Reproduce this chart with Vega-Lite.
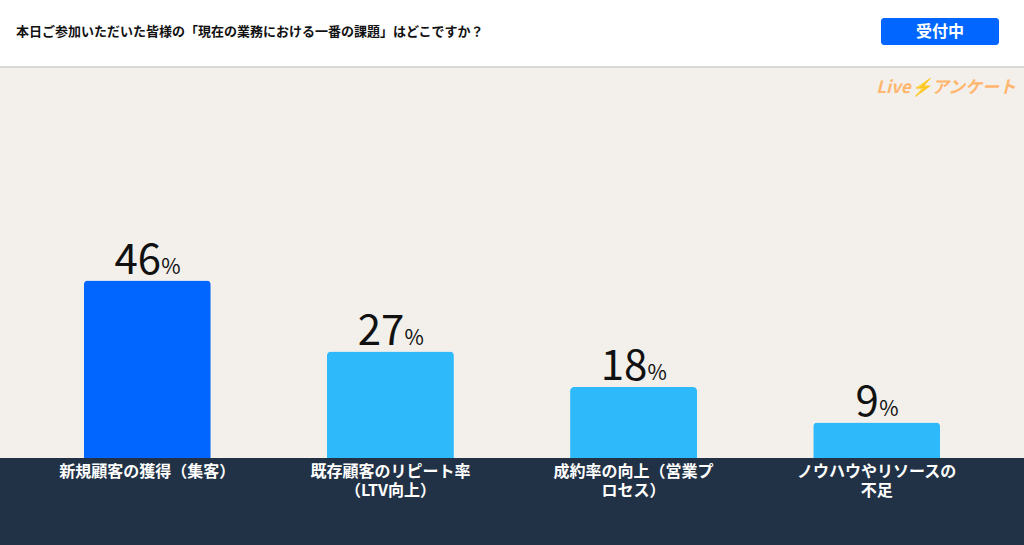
{
  "$schema": "https://vega.github.io/schema/vega-lite/v6.json",
  "padding": 0,
  "background": "#223246",
  "spacing": 0,
  "config": {
    "view": {"stroke": null, "strokeWidth": 0},
    "text": {"font": "Noto Sans CJK JP"},
    "concat": {"spacing": 0}
  },
  "datasets": {
    "answers": [
      {"choice": "新規顧客の獲得（集客）", "value": 45.5},
      {"choice": "既存顧客のリピート率\n（LTV向上）", "value": 27.3},
      {"choice": "成約率の向上（営業プ\nロセス）", "value": 18.2},
      {"choice": "ノウハウやリソースの\n不足", "value": 9.1}
    ],
    "header": [
      {"question": "本日ご参加いただいた皆様の「現在の業務における一番の課題」はどこですか？", "status": "受付中", "logo": "Live⚡アンケート"}
    ]
  },
  "vconcat": [
    {
      "width": 1024,
      "height": 68,
      "view": {"fill": "#ffffff", "stroke": null, "strokeWidth": 0},
      "data": {"name": "header"},
      "layer": [
        {
          "mark": {"type": "text", "align": "left", "baseline": "middle", "x": 16, "y": 32, "fontSize": 13, "fontWeight": "bold", "color": "#111111"},
          "encoding": {"text": {"field": "question"}}
        },
        {
          "mark": {"type": "rect", "x": 881, "x2": 999, "y": 18, "y2": 45, "color": "#0066ff", "cornerRadius": 3},
          "encoding": {}
        },
        {
          "mark": {"type": "text", "align": "center", "baseline": "middle", "x": 940, "y": 32, "fontSize": 16, "fontWeight": "bold", "color": "#ffffff"},
          "encoding": {"text": {"field": "status"}}
        },
        {
          "mark": {"type": "rect", "x": 0, "x2": 1024, "y": 66, "y2": 68, "color": "#d9d8d5"},
          "encoding": {}
        }
      ]
    },
    {
      "width": 1024,
      "height": 390,
      "view": {"fill": "#f3f0eb", "stroke": null, "strokeWidth": 0},
      "data": {"name": "answers"},
      "encoding": {
        "x": {"field": "choice", "type": "nominal", "sort": null, "axis": null, "scale": {"type": "band", "paddingInner": 0.478, "paddingOuter": 0.345}},
        "y": {"field": "value", "type": "quantitative", "axis": null, "scale": {"domain": [0, 100]}}
      },
      "layer": [
        {
          "mark": {"type": "bar", "cornerRadiusTopLeft": 4, "cornerRadiusTopRight": 4},
          "encoding": {
            "color": {"condition": {"test": "datum.value > 40", "value": "#0066ff"}, "value": "#2ebafa"}
          }
        },
        {
          "mark": {"type": "text", "align": "center", "baseline": "alphabetic", "fontSize": 42, "fontWeight": "normal", "dx": -9.5, "dy": -7, "color": "#111111"},
          "encoding": {"text": {"field": "value", "type": "quantitative", "format": ".0f"}}
        },
        {
          "transform": [{"filter": "datum.value >= 9.5"}],
          "mark": {"type": "text", "text": "%", "align": "left", "baseline": "alphabetic", "fontSize": 21, "fontWeight": "normal", "dx": 14, "dy": -7, "color": "#111111"}
        },
        {
          "transform": [{"filter": "datum.value < 9.5"}],
          "mark": {"type": "text", "text": "%", "align": "left", "baseline": "alphabetic", "fontSize": 21, "fontWeight": "normal", "dx": 2.5, "dy": -7, "color": "#111111"}
        },
        {
          "data": {"name": "header"},
          "mark": {"type": "text", "align": "right", "baseline": "middle", "fontSize": 17, "fontWeight": "bold", "fontStyle": "italic", "color": "#ffb66e"},
          "encoding": {"x": {"value": 1016}, "y": {"value": 20}, "text": {"field": "logo"}}
        }
      ]
    },
    {
      "width": 1024,
      "height": 87,
      "view": {"fill": "#223246", "stroke": null, "strokeWidth": 0},
      "data": {"name": "answers"},
      "mark": {"type": "text", "color": "#ffffff", "fontSize": 16, "fontWeight": "bold", "baseline": "top", "align": "center", "lineBreak": "\n", "lineHeight": 19, "y": 6},
      "encoding": {
        "x": {"field": "choice", "type": "nominal", "sort": null, "axis": null, "scale": {"type": "band", "paddingInner": 0.478, "paddingOuter": 0.345}},
        "text": {"field": "choice"}
      }
    }
  ]
}
